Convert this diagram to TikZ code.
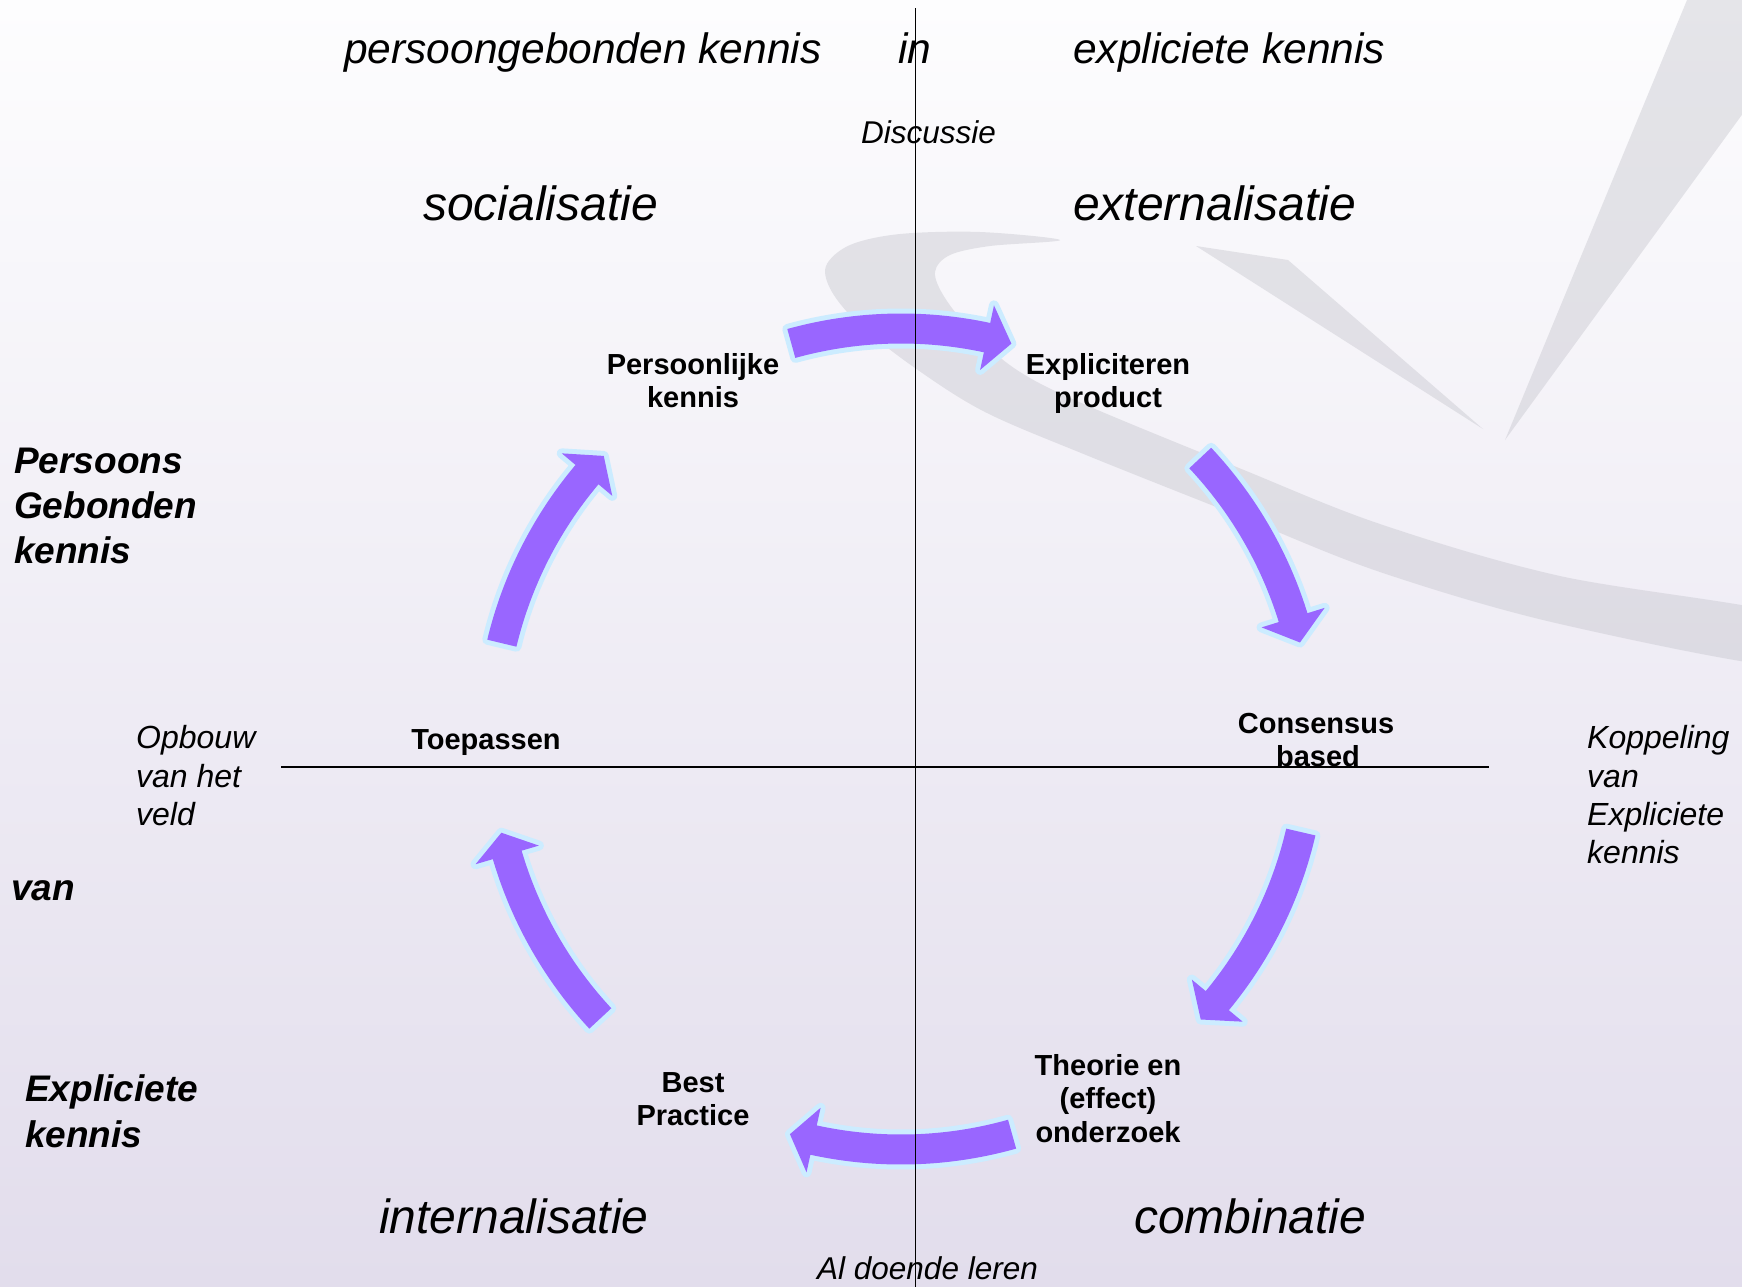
\documentclass[tikz,border=0pt]{standalone}
\usepackage{fontspec}
\setmainfont{Liberation Sans}
\usetikzlibrary{calc}
\definecolor{arrowpurple}{RGB}{153,102,255}
\definecolor{arrowedge}{RGB}{204,236,255}
\definecolor{bgtop}{RGB}{253,253,254}
\definecolor{bgmid}{RGB}{240,237,245}
\definecolor{bgbot}{RGB}{226,221,236}
\definecolor{swooshgray}{RGB}{196,196,204}
\newcommand\cyclearrow[3]{%
  \path[arrowbody] ($(ctr)+(#1:425.5)$) arc[start angle=#1, end angle=#2, radius=425.5pt]
    -- ($(ctr)+(#2:443.5)$) -- ($(ctr)+(#3:410.5)$) -- ($(ctr)+(#2:377.5)$)
    -- ($(ctr)+(#2:395.5)$) arc[start angle=#2, end angle=#1, radius=395.5pt] -- cycle;}
\begin{document}
\begin{tikzpicture}[x=1pt,y=1pt,
  arrowbody/.style={fill=arrowpurple, preaction={draw=arrowedge, line width=10pt, line join=round}},
  axis/.style={draw=black, line width=1.6pt},
  swoosh/.style={fill=swooshgray, fill opacity=0.42},
  headtxt/.style={font=\fontsize{42.5}{51}\selectfont\itshape, inner sep=0pt, anchor=base west},
  modetxt/.style={font=\fontsize{48}{58}\selectfont\itshape, inner sep=0pt, anchor=base west},
  smalltxt/.style={font=\fontsize{31.5}{38}\selectfont\itshape, inner sep=0pt, anchor=base west},
  lbl/.style={font=\fontsize{29}{33}\selectfont\bfseries, inner sep=0pt, anchor=base},
  sidetxt/.style={font=\fontsize{37}{45}\selectfont\bfseries\itshape, inner sep=0pt, anchor=base west},
  notetxt/.style={font=\fontsize{32}{38}\selectfont\itshape, inner sep=0pt, anchor=base west}]
\useasboundingbox (0,0) rectangle (1742,-1286);
\clip (0,0) rectangle (1742,-1286);
% background
\shade[top color=bgtop, middle color=bgmid, bottom color=bgbot] (0,0) rectangle (1742,-1286);
% swoosh crescent
\fill[swoosh] plot[smooth cycle, tension=0.55] coordinates {
  (1060,-240) (980,-232) (900,-234) (850,-245) (826,-266) (832,-292) (860,-325) (915,-368)
  (985,-412) (1086,-455) (1239,-516) (1380,-572) (1560,-624) (1800,-668)
  (1800,-618) (1560,-576) (1380,-524) (1239,-468) (1086,-405) (1020,-372) (975,-335)
  (945,-298) (935,-272) (950,-255) (990,-246)};
% V blades
\fill[swoosh] (1196,-246) -- (1288,-260) -- (1483,-429) -- cycle;
\fill[swoosh] (1687,0) -- (1760,0) -- (1760,-90) -- (1505,-440) -- cycle;
% cycle arrows
\coordinate (ctr) at (901,-739);
\cyclearrow{166.5}{139.9}{136.4}
\cyclearrow{105.5}{77.9}{74.4}
\cyclearrow{43.2}{17.2}{13.6}
\cyclearrow{-13.1}{-39.6}{-43.1}
\cyclearrow{-74.3}{-102.3}{-105.7}
\cyclearrow{222.9}{196.4}{193.2}
% axes
\coordinate (vt) at (915.5,-8);
\coordinate (vb) at (915.5,-1290);
\coordinate (hl) at (281,-767);
\coordinate (hr) at (1489,-767);
\draw[axis] (vt) -- (vb);
\draw[axis] (hl) -- (hr);
% top texts
\node[headtxt] (t1) at (344,-63) {persoongebonden kennis};
\node[headtxt] (t2) at (898,-63) {in};
\node[headtxt] (t3) at (1073,-63) {expliciete kennis};
\node[smalltxt] (disc) at (861,-143) {Discussie};
\node[modetxt] (soc) at (423,-220) {socialisatie};
\node[modetxt] (ext) at (1073,-220) {externalisatie};
\node[modetxt] (int) at (379,-1233) {internalisatie};
\node[modetxt] (comb) at (1134,-1233) {combinatie};
\node[smalltxt] (ald) at (817,-1279) {Al doende leren};
% cycle labels
\node[lbl] (pk1) at (693,-374) {Persoonlijke};
\node[lbl] (pk2) at (693,-407) {kennis};
\node[lbl] (ep1) at (1108,-374) {Expliciteren};
\node[lbl] (ep2) at (1108,-407) {product};
\node[lbl] (toe) at (486,-749) {Toepassen};
\node[lbl] (cb1) at (1316,-733) {Consensus};
\node[lbl] (cb2) at (1318,-766) {based};
\node[lbl] (bp1) at (693,-1092) {Best};
\node[lbl] (bp2) at (693,-1125) {Practice};
\node[lbl] (te1) at (1108,-1075) {Theorie en};
\node[lbl] (te2) at (1108,-1108) {(effect)};
\node[lbl] (te3) at (1108,-1142) {onderzoek};
% side texts
\node[sidetxt] (pg1) at (14,-473) {Persoons};
\node[sidetxt] (pg2) at (14,-518) {Gebonden};
\node[sidetxt] (pg3) at (14,-563) {kennis};
\node[sidetxt] (van) at (11,-900) {van};
\node[sidetxt] (ek1) at (25,-1101) {Expliciete};
\node[sidetxt] (ek2) at (25,-1147) {kennis};
\node[notetxt] (ob1) at (136,-748) {Opbouw};
\node[notetxt] (ob2) at (136,-787) {van het};
\node[notetxt] (ob3) at (136,-825) {veld};
\node[notetxt] (kp1) at (1587,-748) {Koppeling};
\node[notetxt] (kp2) at (1587,-787) {van};
\node[notetxt] (kp3) at (1587,-825) {Expliciete};
\node[notetxt] (kp4) at (1587,-863) {kennis};
\end{tikzpicture}
\end{document}
